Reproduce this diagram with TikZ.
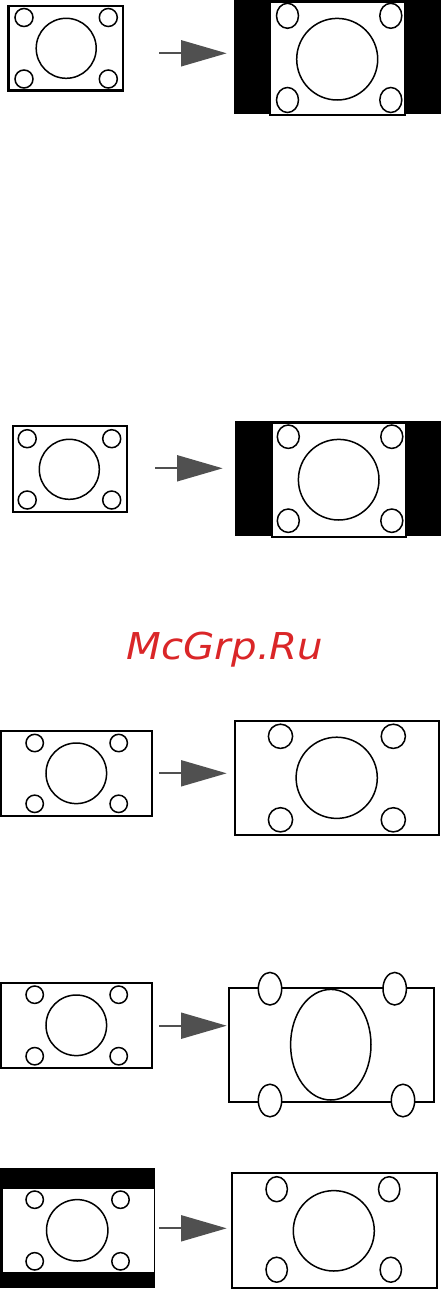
\documentclass[tikz,border=0pt]{standalone}
\usepackage{fontspec}
\newfontfamily\wmfont{DejaVu Sans}
\usetikzlibrary{arrows.meta}
\definecolor{arrowgray}{RGB}{80,80,80}
\definecolor{wmred}{RGB}{218,38,40}
\begin{document}
\begin{tikzpicture}[x=1pt,y=-1pt,
  frame/.style={draw=black, line width=2.2pt, fill=white, rectangle, inner sep=0pt},
  bar/.style={fill=black, draw=none, rectangle, inner sep=0pt},
  ring/.style={draw=black, line width=1.5pt},
  oval/.style={draw=black, line width=1.5pt, fill=white},
  conn/.style={draw=arrowgray, line width=2pt, -{Triangle[length=45.7pt,width=26pt]}},
  wm/.style={text=wmred, font=\wmfont\itshape\fontsize{37}{40}\selectfont, inner sep=0pt, anchor=base}
  ]
\useasboundingbox (0,0) rectangle (441,1290);

% ---------- Row 1 ----------
\node[frame, minimum width=114.5pt, minimum height=84.5pt] (r1l) at (65.75,48.25) {};
\draw[ring] (24,17.5) circle [radius=9];
\draw[ring] (108.3,17.5) circle [radius=9];
\draw[ring] (24,79) circle [radius=9];
\draw[ring] (108.3,79) circle [radius=9];
\draw[ring] (66.2,48.3) circle [radius=30];
\coordinate (a1s) at (159.3,53.3);
\coordinate (a1e) at (226.7,53.3);
\draw[conn] (a1s) -- (a1e);
\node[bar, minimum width=206.7pt, minimum height=113.7pt] (r1b) at (337.65,56.85) {};
\node[frame, minimum width=135pt, minimum height=113.3pt] (r1r) at (337.5,58.35) {};
\draw[ring] (287.5,15.8) circle [x radius=11, y radius=12.5];
\draw[ring] (390.8,15.8) circle [x radius=11, y radius=12.5];
\draw[ring] (287.5,100) circle [x radius=11, y radius=12.5];
\draw[ring] (390.8,100) circle [x radius=11, y radius=12.5];
\draw[ring] (337.2,59.2) circle [x radius=40.5, y radius=40.8];

% ---------- Row 2 ----------
\node[frame, minimum width=114pt, minimum height=86.3pt] (r2l) at (69.7,469.15) {};
\draw[ring] (27.2,438.7) circle [radius=9];
\draw[ring] (111.7,438.7) circle [radius=9];
\draw[ring] (27.2,500) circle [radius=9];
\draw[ring] (111.7,500) circle [radius=9];
\draw[ring] (69.3,469.3) circle [radius=30];
\coordinate (a2s) at (155,468.3);
\coordinate (a2e) at (222.7,468.3);
\draw[conn] (a2s) -- (a2e);
\node[bar, minimum width=205.7pt, minimum height=114.7pt] (r2b) at (338.15,478.35) {};
\node[frame, minimum width=134.3pt, minimum height=114pt] (r2r) at (338.85,479.7) {};
\draw[ring] (288.3,436.7) circle [x radius=11, y radius=11.7];
\draw[ring] (391.8,436.7) circle [x radius=11, y radius=11.7];
\draw[ring] (288.3,520.7) circle [x radius=11, y radius=11.7];
\draw[ring] (391.8,520.7) circle [x radius=11, y radius=11.7];
\draw[ring] (338.7,479.7) circle [radius=40.3];

% ---------- Watermark ----------
\node[wm] (mark) at (225,659) {\scalebox{1.09}[1]{McGrp.Ru}};

% ---------- Row 3 ----------
\node[frame, minimum width=151.3pt, minimum height=85pt] (r3l) at (76.65,773.5) {};
\draw[ring] (34.7,743) circle [radius=8.7];
\draw[ring] (118.7,743) circle [radius=8.7];
\draw[ring] (34.7,803.8) circle [radius=8.7];
\draw[ring] (118.7,803.8) circle [radius=8.7];
\draw[ring] (76.3,773.3) circle [radius=30.3];
\coordinate (a3s) at (159.3,773.3);
\coordinate (a3e) at (226.7,773.3);
\draw[conn] (a3s) -- (a3e);
\node[frame, minimum width=204pt, minimum height=114.3pt] (r3r) at (337,778.15) {};
\draw[ring] (280.5,736.3) circle [radius=12.1];
\draw[ring] (393.3,736.3) circle [radius=12.1];
\draw[ring] (280.5,819.8) circle [radius=12.1];
\draw[ring] (393.3,819.8) circle [radius=12.1];
\draw[ring] (336.7,777.8) circle [radius=40.6];

% ---------- Row 4 ----------
\node[frame, minimum width=151.3pt, minimum height=85pt] (r4l) at (76.65,1025.2) {};
\draw[ring] (34.7,994.7) circle [radius=8.7];
\draw[ring] (118.7,994.7) circle [radius=8.7];
\draw[ring] (34.7,1056.2) circle [radius=8.7];
\draw[ring] (118.7,1056.2) circle [radius=8.7];
\draw[ring] (76.3,1025.3) circle [radius=30.3];
\coordinate (a4s) at (159.3,1025.7);
\coordinate (a4e) at (226.7,1025.7);
\draw[conn] (a4s) -- (a4e);
\node[frame, minimum width=205.3pt, minimum height=114pt] (r4r) at (331.35,1045) {};
\draw[oval] (270,988.7) circle [x radius=11.7, y radius=16.3];
\draw[oval] (394.7,988.7) circle [x radius=11.7, y radius=16.3];
\draw[oval] (270,1100.5) circle [x radius=11.7, y radius=16.3];
\draw[oval] (403,1100.5) circle [x radius=11.7, y radius=16.3];
\draw[ring] (330.8,1044.7) circle [x radius=40.2, y radius=55.3];

% ---------- Row 5 ----------
\node[bar, minimum width=155.3pt, minimum height=120pt] (r5b) at (77.65,1228.3) {};
\node[fill=white, rectangle, inner sep=0pt, minimum width=151.6pt, minimum height=82.7pt] (r5l) at (78.5,1230.35) {};
\draw[ring] (34.7,1199.7) circle [radius=8.7];
\draw[ring] (120.5,1199.7) circle [radius=8.7];
\draw[ring] (34.7,1261.3) circle [radius=8.7];
\draw[ring] (120.5,1261.3) circle [radius=8.7];
\draw[ring] (77.2,1230.3) circle [radius=30.7];
\coordinate (a5s) at (159.3,1228.3);
\coordinate (a5e) at (226.7,1228.3);
\draw[conn] (a5s) -- (a5e);
\node[frame, minimum width=205pt, minimum height=115pt] (r5r) at (334.2,1230.8) {};
\draw[ring] (276.7,1189.2) circle [x radius=10.7, y radius=12.5];
\draw[ring] (389.2,1189.2) circle [x radius=10.7, y radius=12.5];
\draw[ring] (276.7,1269.7) circle [x radius=10.7, y radius=12.5];
\draw[ring] (390.8,1269.7) circle [x radius=10.7, y radius=12.5];
\draw[ring] (333.8,1230.8) circle [x radius=40.5, y radius=40.2];
\end{tikzpicture}
\end{document}
